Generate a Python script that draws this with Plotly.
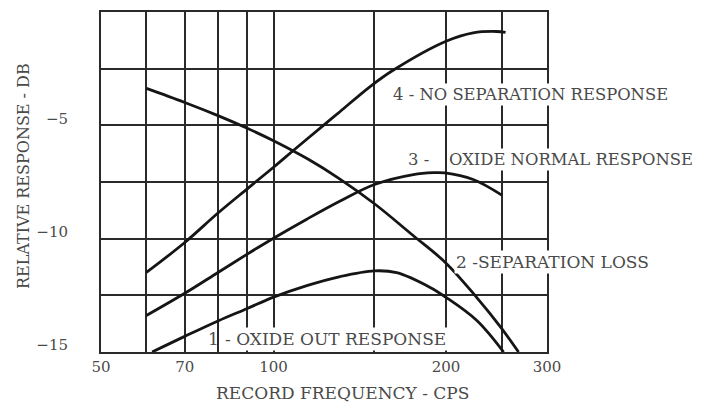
import math
import plotly.graph_objects as go

# Record frequency (cps) and relative response (dB) for each curve
freq_out = [61.4, 70, 80, 90, 100, 114.3, 130.7, 150, 164, 187.6, 200, 226.3, 252]
db_out = [-15.0, -14.31, -13.63, -13.08, -12.58, -12.07, -11.67, -11.42, -11.5, -12.15, -12.59, -13.61, -15.0]

freq_sep = [60, 70, 80, 90, 100, 115, 130, 150, 175, 200, 226.3, 249, 267.6]
db_sep = [-3.37, -3.99, -4.57, -5.13, -5.68, -6.5, -7.34, -8.46, -9.85, -11.08, -12.6, -13.9, -15.0]

freq_norm = [60, 70, 80, 90, 100, 114.3, 130.7, 150, 175.4, 190, 199, 223, 250.6]
db_norm = [-13.39, -12.41, -11.49, -10.68, -9.98, -9.14, -8.34, -7.61, -7.17, -7.09, -7.1, -7.39, -8.09]

freq_nosep = [60, 70, 80, 90, 100, 108.4, 122.2, 130.7, 147.4, 161.9, 200, 223, 245, 254]
db_nosep = [-11.49, -10.17, -8.87, -7.8, -6.85, -6.1, -5.0, -4.39, -3.29, -2.56, -1.29, -0.92, -0.86, -0.9]

# Axis grid and labels
x_grid = [50, 60, 70, 80, 90, 100, 150, 200, 250, 300]
x_labels = ["50", "", "70", "", "", "100", "", "200", "", "300"]
y_grid = [-15, -12.5, -10, -7.5, -5, -2.5, 0]
y_labels = ["\u221215", "", "\u221210", "", "\u22125", "", ""]

INK = "#151515"
TEXT = "#4a4a4a"
FONT = "DejaVu Serif"

fig = go.Figure()
for fx, fy in [(freq_out, db_out), (freq_sep, db_sep), (freq_norm, db_norm), (freq_nosep, db_nosep)]:
    fig.add_trace(go.Scatter(
        x=fx, y=fy, mode="lines",
        line=dict(color=INK, width=2.8, shape="spline", smoothing=1.0),
        showlegend=False, hoverinfo="skip",
    ))

axis_common = dict(
    showgrid=True, gridcolor="#2a2a2a", gridwidth=1.8,
    showline=True, linecolor="#2a2a2a", linewidth=2, mirror=True,
    zeroline=False, ticks="",
    tickfont=dict(family=FONT, size=15, color=TEXT),
)

fig.update_xaxes(
    type="log", range=[math.log10(50), math.log10(300)],
    tickvals=x_grid, ticktext=x_labels, **axis_common,
)
fig.update_yaxes(
    range=[-15, 0], tickvals=y_grid, ticktext=y_labels,
    ticklabelstandoff=28, ticklabelshift=-7, **axis_common,
)

def label(text, f, db, size, boxed=True):
    ann = dict(
        x=math.log10(f), y=db, xref="x", yref="y", text=text,
        showarrow=False, xanchor="left", yanchor="middle",
        borderpad=1,
        font=dict(family=FONT, size=size, color=TEXT),
    )
    if boxed:
        ann["bgcolor"] = "white"
    return ann

plot_l, plot_r, plot_t, plot_b = 101, 547, 10, 352

annotations = [
    label("4 - NO SEPARATION RESPONSE", 160.5, -3.63, 16.4),
    label("3 -", 170.4, -6.5, 16.4, boxed=False),
    label("OXIDE NORMAL RESPONSE", 200.5, -6.5, 16.4),
    label("2 -SEPARATION LOSS", 206.6, -11.02, 17),
    label("1", 76.3, -14.42, 17, boxed=False),
    label("- OXIDE OUT RESPONSE", 81.6, -14.42, 17),
    dict(x=(342 - plot_l) / (plot_r - plot_l), y=-(393 - plot_b) / (plot_b - plot_t),
         xref="paper", yref="paper", text="RECORD FREQUENCY - CPS",
         showarrow=False, xanchor="center", yanchor="middle",
         font=dict(family=FONT, size=17, color=TEXT)),
    dict(x=(23 - plot_l) / (plot_r - plot_l), y=(plot_b - 175) / (plot_b - plot_t),
         xref="paper", yref="paper", text="RELATIVE RESPONSE - DB",
         showarrow=False, textangle=-90, xanchor="center", yanchor="middle",
         font=dict(family=FONT, size=16, color=TEXT)),
]

fig.update_layout(
    width=706, height=404,
    margin=dict(l=plot_l, r=706 - plot_r, t=plot_t, b=404 - plot_b),
    paper_bgcolor="white", plot_bgcolor="white",
    annotations=annotations,
)

fig.write_html("out.html")
